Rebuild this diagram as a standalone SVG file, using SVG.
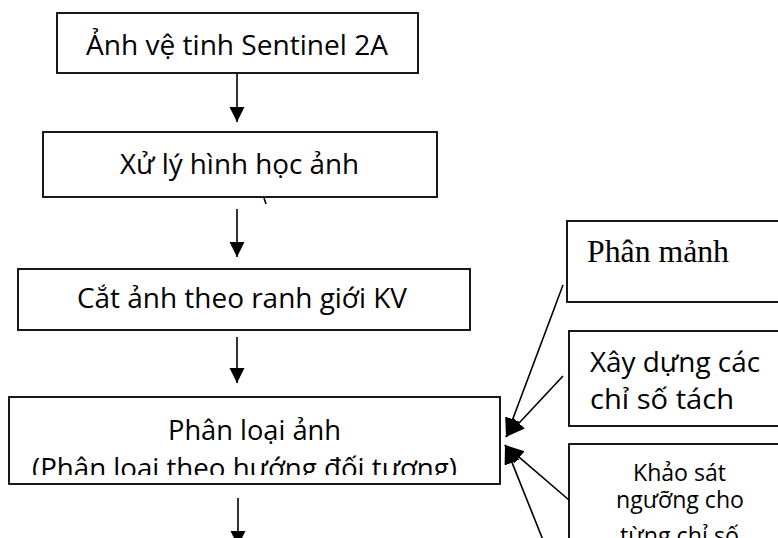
<svg xmlns="http://www.w3.org/2000/svg" width="778" height="538" viewBox="0 0 778 538">
<style>
.box{fill:#fff;stroke:#000;stroke-width:1.8}
.t{font-family:"Open Sans","Liberation Sans",sans-serif;font-size:28px;fill:#000}
.ts{font-family:"Open Sans","Liberation Sans",sans-serif;font-size:23.5px;fill:#000}
.tr{font-family:"Liberation Serif","Times New Roman",serif;font-size:32px;fill:#000}
.c{stroke:#000;stroke-width:1.6;fill:none}
</style>
<defs>
<marker id="ah" markerUnits="userSpaceOnUse" markerWidth="16" markerHeight="16" refX="15" refY="7.5" orient="auto">
<path d="M0,0 L15,7.5 L0,15 Z" fill="#000"/>
</marker>
<marker id="ahd" markerUnits="userSpaceOnUse" markerWidth="20" markerHeight="18" refX="19" refY="8" orient="auto">
<path d="M0,0 L19,8 L0,16 Z" fill="#000"/>
</marker>
<clipPath id="clip4"><rect x="0" y="397" width="500" height="78"/></clipPath>
</defs>

<g id="n1">
<rect class="box" x="57" y="13" width="361" height="60"/>
<text class="t" x="86" y="55" textLength="302" lengthAdjust="spacingAndGlyphs">Ảnh vệ tinh Sentinel 2A</text>
</g>
<g id="n2">
<rect class="box" x="43" y="132" width="394" height="65"/>
<text class="t" x="120" y="174" textLength="239" lengthAdjust="spacingAndGlyphs">Xử lý hình học ảnh</text>
</g>
<g id="n3">
<rect class="box" x="18" y="269" width="452" height="61"/>
<text class="t" x="77" y="308" textLength="330" lengthAdjust="spacingAndGlyphs">Cắt ảnh theo ranh giới KV</text>
</g>
<g id="n4">
<rect class="box" x="9" y="397" width="491" height="87"/>
<text class="t" x="168" y="440" textLength="173" lengthAdjust="spacingAndGlyphs">Phân loại ảnh</text>
<text class="t" x="32" y="478" textLength="425" lengthAdjust="spacingAndGlyphs" clip-path="url(#clip4)">(Phân loại theo hướng đối tượng)</text>
</g>
<g id="n5">
<rect class="box" x="567" y="221" width="230" height="81"/>
<text class="tr" x="587" y="262" textLength="142" lengthAdjust="spacingAndGlyphs">Phân mảnh</text>
</g>
<g id="n6">
<rect class="box" x="569" y="331" width="230" height="95"/>
<text class="t" x="590" y="372" textLength="170" lengthAdjust="spacingAndGlyphs">Xây dựng các</text>
<text class="t" x="590" y="409" textLength="144" lengthAdjust="spacingAndGlyphs">chỉ số tách</text>
</g>
<g id="n7">
<rect class="box" x="569" y="444" width="230" height="120"/>
<text class="ts" x="633" y="481" textLength="93" lengthAdjust="spacingAndGlyphs">Khảo sát</text>
<text class="ts" x="616" y="508" textLength="128" lengthAdjust="spacingAndGlyphs">ngưỡng cho</text>
<text class="ts" x="620" y="544" textLength="119" lengthAdjust="spacingAndGlyphs">từng chỉ số</text>
</g>

<g id="connectors">
<line class="c" x1="237" y1="73" x2="237" y2="122" marker-end="url(#ah)"/>
<line class="c" x1="237" y1="209" x2="237" y2="257" marker-end="url(#ah)"/>
<line class="c" x1="237" y1="337" x2="237" y2="383" marker-end="url(#ah)"/>
<line class="c" x1="238" y1="498" x2="238" y2="546" marker-end="url(#ah)"/>
<line class="c" x1="264" y1="198" x2="266" y2="204"/>
<line class="c" x1="563" y1="285" x2="506" y2="437" marker-end="url(#ahd)"/>
<line class="c" x1="563" y1="376" x2="506" y2="437" marker-end="url(#ahd)"/>
<line class="c" x1="569" y1="500" x2="505" y2="445" marker-end="url(#ahd)"/>
<line class="c" x1="543" y1="540" x2="505" y2="445" marker-end="url(#ahd)"/>
</g>
</svg>
